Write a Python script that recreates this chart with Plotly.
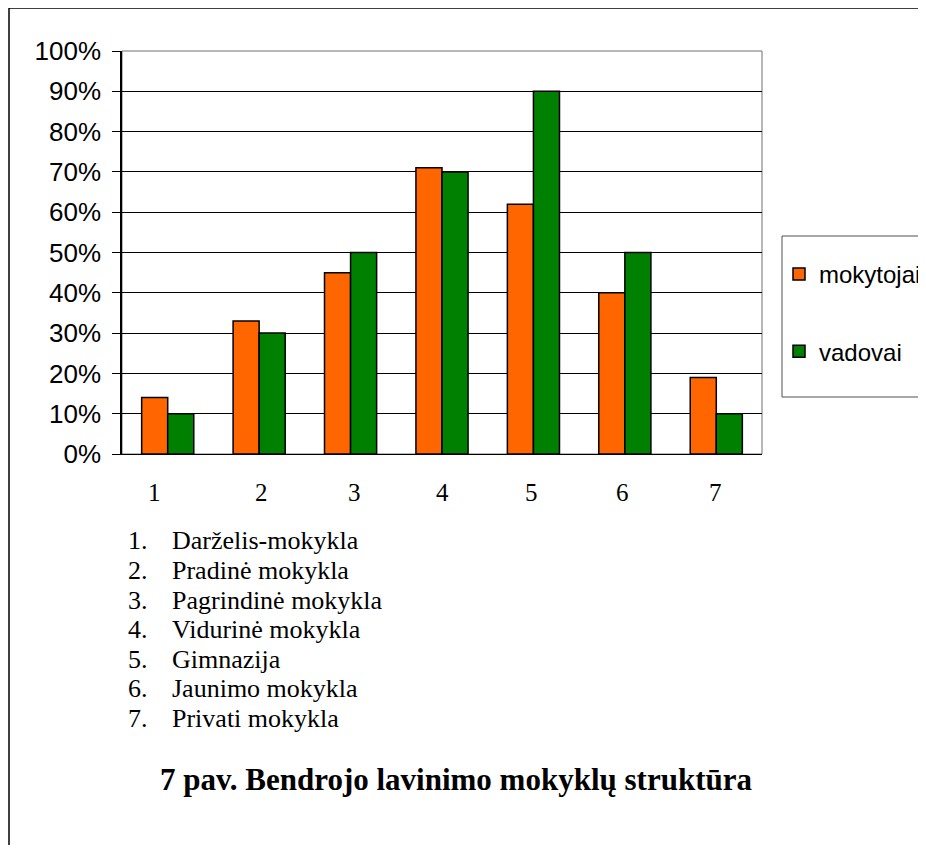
import plotly.graph_objects as go

categories = ["1", "2", "3", "4", "5", "6", "7"]
mokytojai = [14, 33, 45, 71, 62, 40, 19]
vadovai = [10, 30, 50, 70, 90, 50, 10]
series_names = ["mokytojai", "vadovai"]
list_items = ["Darželis-mokykla", "Pradinė mokykla", "Pagrindinė mokykla",
              "Vidurinė mokykla", "Gimnazija", "Jaunimo mokykla", "Privati mokykla"]
caption = "7 pav. Bendrojo lavinimo mokyklų struktūra"

# the page body has an 8px margin; work in reference pixel coordinates and shift
OFF = 8
W, H = 926 - OFF, 853 - 2 * OFF
L, R, T, B = 122 - OFF, 762 - OFF, 51 - OFF, 454 - OFF  # plot area box in figure pixels


def px(x):
    return (x - OFF - L) / (R - L)


def py(y):
    return (B - (y - OFF)) / (B - T)


fig = go.Figure()
fig.add_trace(go.Bar(x=categories, y=mokytojai, name=series_names[0],
                     marker=dict(color="#FF6600", line=dict(color="#000000", width=1.5)),
                     legendgroup="a"))
fig.add_trace(go.Bar(x=categories, y=vadovai, name=series_names[1],
                     marker=dict(color="#008000", line=dict(color="#000000", width=1.5)),
                     legendgroup="b"))

shapes = [
    dict(type="rect", xref="paper", yref="paper", x0=0, y0=0, x1=1, y1=1,
         line=dict(color="#707070", width=1), layer="below"),
    dict(type="line", xref="paper", yref="paper", x0=px(9), y0=py(8), x1=px(9), y1=py(880),
         line=dict(color="#000000", width=1.5)),
    dict(type="line", xref="paper", yref="paper", x0=px(9), y0=py(8), x1=px(960), y1=py(8),
         line=dict(color="#000000", width=1.5)),
    dict(type="rect", xref="paper", yref="paper", x0=px(782), y0=py(236), x1=px(990), y1=py(397),
         line=dict(color="#505050", width=1), fillcolor="rgba(0,0,0,0)"),
]

annotations = []
label_shift = [-13, 2, 4, 0, -2, -2, -1]
for i, (c, s) in enumerate(zip(categories, label_shift)):
    annotations.append(dict(xref="x", yref="paper", x=i, y=py(493), xshift=s,
                            xanchor="center", yanchor="middle", text=c, showarrow=False,
                            font=dict(family="Liberation Serif", size=25, color="#000")))

row_y = [540, 570, 600, 629, 659, 688, 718]
for i, (txt, yy) in enumerate(zip(list_items, row_y)):
    annotations.append(dict(xref="paper", yref="paper", x=px(126), y=py(yy), xanchor="left",
                            yanchor="middle", text=f"{i + 1}.", showarrow=False,
                            font=dict(family="Liberation Serif", size=26, color="#000")))
    annotations.append(dict(xref="paper", yref="paper", x=px(170), y=py(yy), xanchor="left",
                            yanchor="middle", text=txt, showarrow=False,
                            font=dict(family="Liberation Serif", size=26, color="#000")))
annotations.append(dict(xref="paper", yref="paper", x=px(456), y=py(779), xanchor="center",
                        yanchor="middle", text=f"<b>{caption}</b>", showarrow=False,
                        font=dict(family="Liberation Serif", size=31, color="#000")))

fig.update_layout(
    width=W, height=H,
    margin=dict(l=L, r=W - R, t=T, b=H - B, autoexpand=False),
    paper_bgcolor="white", plot_bgcolor="white",
    barmode="group", bargap=0.43, bargroupgap=0,
    showlegend=True,
    legend=dict(x=px(779), y=py(252), xanchor="left", yanchor="top",
                bgcolor="rgba(0,0,0,0)", borderwidth=0,
                font=dict(family="Liberation Sans", size=24, color="#000"),
                tracegroupgap=43, traceorder="grouped"),
    shapes=shapes,
    annotations=annotations,
    xaxis=dict(type="category", showgrid=False, showline=True, linecolor="#000", linewidth=1,
               ticks="", showticklabels=False, fixedrange=True),
    yaxis=dict(range=[0, 100], dtick=10, ticksuffix="%", showgrid=True,
               gridcolor="#000000", gridwidth=1, showline=True, linecolor="#000",
               linewidth=1.5, ticks="outside", ticklen=8, tickcolor="#000",
               tickfont=dict(family="Liberation Sans", size=26, color="#000"),
               ticklabelstandoff=6, zeroline=False, fixedrange=True),
)

fig.write_html("out.html")
